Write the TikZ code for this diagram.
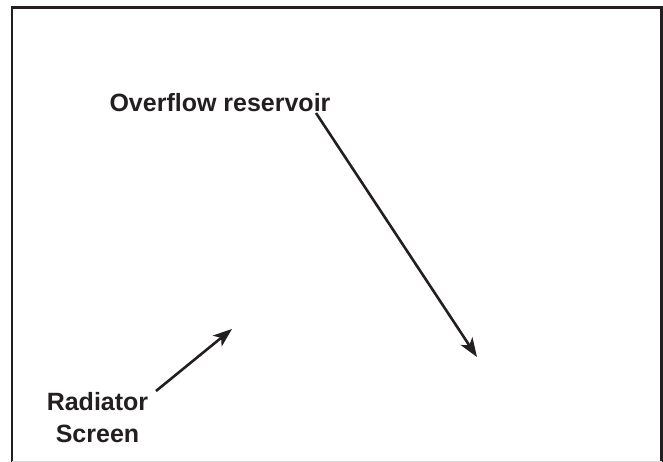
\documentclass[tikz,border=0pt]{standalone}
\usepackage{fontspec}
\setmainfont{Liberation Sans}
\usetikzlibrary{arrows.meta}
\definecolor{ink}{HTML}{231F20}
\begin{document}
\begin{tikzpicture}[x=1pt,y=-1pt,
  lbl/.style={font=\fontsize{25}{32}\selectfont\bfseries, text=ink, inner sep=0pt, align=center},
  pointer/.style={draw=ink, line width=2.6pt, -{Stealth[length=19pt,width=14pt,inset=5pt]}},
  frame/.style={draw=ink, line width=2.8pt}]
\useasboundingbox (0,0) rectangle (663,462);
% frame
\coordinate (bl) at (12,462);
\coordinate (tl) at (12,7.2);
\coordinate (tr) at (661.6,7.2);
\coordinate (br) at (661.6,462);
\draw[frame] (bl) -- (tl) -- (tr) -- (br);
\draw[black!15, line width=1pt] (12,461) -- (661.6,461);
% labels
\node[lbl, anchor=base] (over) at (220,112) {Overflow reservoir};
\node[lbl, anchor=base] (rad) at (97.5,442) {Radiator\\Screen};
% arrows
\coordinate (o1) at (316,113);
\coordinate (o2) at (477,357);
\coordinate (r1) at (156,391);
\coordinate (r2) at (232,329);
\draw[pointer] (o1) -- (o2);
\draw[pointer] (r1) -- (r2);
\end{tikzpicture}
\end{document}
